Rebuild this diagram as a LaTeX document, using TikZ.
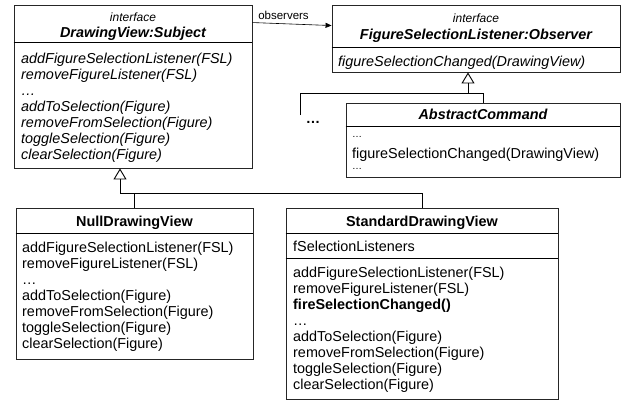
\documentclass[tikz,border=0pt]{standalone}
\usepackage{fontspec}
\setmainfont{Liberation Sans}
\usetikzlibrary{arrows.meta}

\tikzset{
	classbox/.style={draw=black!85, line width=0.9pt, inner sep=0pt},
	stereo/.style={font=\fontsize{12}{14}\selectfont\itshape, inner sep=0pt, text height=8.6pt, text depth=0pt},
	classname/.style={font=\fontsize{14.4}{16}\selectfont\bfseries, inner sep=0pt, text height=10.3pt, text depth=0pt},
	abstractname/.style={classname, font=\fontsize{14.4}{16}\selectfont\bfseries\itshape},
	oplist/.style={font=\fontsize{14.4}{16}\selectfont, align=left, inner sep=0pt, anchor=north west},
	italicops/.style={oplist, font=\fontsize{14.4}{16}\selectfont\itshape},
	smalldots/.style={font=\fontsize{10}{12}\selectfont, inner sep=0pt, anchor=west, text height=1.5pt, text depth=0pt},
	compline/.style={line width=0.9pt},
	genarrow/.style={-{Triangle[open,length=11pt,width=13pt]}, line width=0.9pt},
	assoc/.style={-{Triangle[length=6pt,width=5pt]}, line width=0.6pt},
}

\begin{document}
\begin{tikzpicture}[x=1pt,y=-1pt]
			%%%%% START %%%%%
			\useasboundingbox (0,0) rectangle (627,412);
			
			% subject interface
			\node[classbox, minimum width=238, minimum height=163] (dv) at (133,86.5) {};
			\draw[compline] (dv.west |- 0,42) -- (dv.east |- 0,42);
			\node[stereo] (dv-stereo) at (133,17) {interface};
			\node[abstractname] (dv-name) at (133,32) {DrawingView:Subject};
			\node[italicops] (dv-ops) at (21,52.7) {addFigureSelectionListener(FSL)\\removeFigureListener(FSL)\\…\\addToSelection(Figure)\\removeFromSelection(Figure)\\toggleSelection(Figure)\\clearSelection(Figure)};
			
			% observer interface
			\node[classbox, minimum width=288, minimum height=67] (fsl) at (476,38.5) {};
			\draw[compline] (fsl.west |- 0,47) -- (fsl.east |- 0,47);
			\node[stereo] (fsl-stereo) at (476,18) {interface};
			\node[abstractname] (fsl-name) at (476,34) {FigureSelectionListener:Observer};
			\node[italicops] (fsl-ops) at (338,55.7) {figureSelectionChanged(DrawingView)};
			
			\draw[assoc] ([yshift=-18pt]dv.north east) -- ([yshift=-21pt]fsl.north west);
			\node[font=\fontsize{11.5}{13}\selectfont, inner sep=0pt] (observers) at (283.5,15) {observers};
			
			% concrete observers
			\node[classbox, minimum width=274, minimum height=74] (ac) at (483,140) {};
			\draw[compline] (ac.west |- 0,126) -- (ac.east |- 0,126);
			\node[abstractname] (ac-name) at (483,114) {AbstractCommand};
			\node[smalldots] (ac-dots1) at (352,137) {…};
			\node[oplist] (ac-ops) at (352,147.7) {figureSelectionChanged(DrawingView)};
			\node[smalldots] (ac-dots2) at (352,169) {…};
			
			\coordinate (fsl-join) at (468,93);
			\coordinate (others) at (300,115);
			\draw[genarrow] (fsl-join) -- (fsl-join |- fsl.south);
			\draw[compline] (ac.north) |- (fsl-join);
			\draw[compline] (others) |- (fsl-join);
			\node[font=\fontsize{14.4}{16}\selectfont\bfseries, inner sep=0pt] (others-dots) at (313,122) {…};
			
			% concrete subjects
			\node[classbox, minimum width=237, minimum height=151] (nv) at (134.5,283.5) {};
			\draw[compline] (nv.west |- 0,233) -- (nv.east |- 0,233);
			\node[classname] (nv-name) at (134.5,221) {NullDrawingView};
			\node[oplist] (nv-ops) at (22,241.7) {addFigureSelectionListener(FSL)\\removeFigureListener(FSL)\\…\\addToSelection(Figure)\\removeFromSelection(Figure)\\toggleSelection(Figure)\\clearSelection(Figure)};
			
			\node[classbox, minimum width=272, minimum height=191] (sdv) at (422,303.5) {};
			\draw[compline] (sdv.west |- 0,233) -- (sdv.east |- 0,233);
			\draw[compline] (sdv.west |- 0,258) -- (sdv.east |- 0,258);
			\node[classname] (sdv-name) at (422,221) {StandardDrawingView};
			\node[oplist] (sdv-attr) at (293,240.7) {fSelectionListeners};
			\node[oplist] (sdv-ops) at (293,266.7) {addFigureSelectionListener(FSL)\\removeFigureListener(FSL)\\\textbf{fireSelectionChanged()}\\…\\addToSelection(Figure)\\removeFromSelection(Figure)\\toggleSelection(Figure)\\clearSelection(Figure)};
			
			\coordinate (dv-join) at (120,193);
			\draw[genarrow] (dv-join) -- (dv-join |- dv.south);
			\draw[compline] (nv.north) |- (dv-join);
			\draw[compline] (sdv.north) |- (dv-join);
			
			%%%%% END %%%%%
		\end{tikzpicture}
\end{document}
